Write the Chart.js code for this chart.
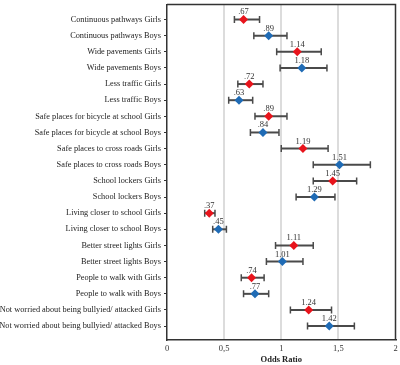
<!DOCTYPE html>
<html><head><meta charset="utf-8">
<script src="https://cdn.jsdelivr.net/npm/chart.js@4/dist/chart.umd.min.js"></script>
<style>html,body{margin:0;padding:0;background:#fff}#wrap{width:400px;height:365px}</style>
</head><body><div id="wrap"><canvas id="c" width="400" height="365"></canvas></div>
<script>
const categories = [
 "Continuous pathways Girls","Continuous pathways Boys",
 "Wide pavements Girls","Wide pavements Boys",
 "Less traffic Girls","Less traffic Boys",
 "Safe places for bicycle at school Girls","Safe places for bicycle at school Boys",
 "Safe places to cross roads Girls","Safe places to cross roads Boys",
 "School lockers Girls","School lockers Boys",
 "Living closer to school Girls","Living closer to school Boys",
 "Better street lights Girls","Better street lights Boys",
 "People to walk with Girls","People to walk with Boys",
 "Not worried about being bullyied/ attacked Girls","Not worried about being bullyied/ attacked Boys"
];
const oddsRatio = [0.67,0.89,1.14,1.18,0.72,0.63,0.89,0.84,1.19,1.51,1.45,1.29,0.37,0.45,1.11,1.01,0.74,0.77,1.24,1.42];
const ciLower = [0.59,0.76,0.96,0.99,0.62,0.54,0.77,0.73,1.00,1.28,1.28,1.13,0.33,0.40,0.95,0.87,0.65,0.67,1.08,1.23];
const ciUpper = [0.81,1.05,1.35,1.40,0.84,0.75,1.05,0.98,1.41,1.78,1.66,1.47,0.42,0.52,1.28,1.19,0.85,0.89,1.44,1.64];
const valueLabels = [".67",".89","1.14","1.18",".72",".63",".89",".84","1.19","1.51","1.45","1.29",".37",".45","1.11","1.01",".74",".77","1.24","1.42"];
const xTickValues = [0,0.5,1,1.5,2];
const xTickLabels = ["0","0,5","1","1,5","2"];

const FONT = "'Liberation Serif', 'Times New Roman', serif";
const girlsIdx = categories.map((c,i)=>i).filter(i=>i%2===0);
const boysIdx = categories.map((c,i)=>i).filter(i=>i%2===1);

const errorBars = {
  id:'errorBars',
  beforeDatasetsDraw(chart){
    const {ctx, scales:{x,y}} = chart;
    ctx.save();
    ctx.strokeStyle = '#4a4a4a';
    for(let i=0;i<categories.length;i++){
      const py = y.getPixelForValue(i+1);
      const x1 = x.getPixelForValue(ciLower[i]);
      const x2 = x.getPixelForValue(ciUpper[i]);
      ctx.lineWidth = 2;
      ctx.beginPath();
      ctx.moveTo(x1,py); ctx.lineTo(x2,py);
      ctx.stroke();
      ctx.lineWidth = 1.5;
      ctx.beginPath();
      ctx.moveTo(x1,py-3.5); ctx.lineTo(x1,py+3.5);
      ctx.moveTo(x2,py-3.5); ctx.lineTo(x2,py+3.5);
      ctx.stroke();
    }
    ctx.restore();
  },
  afterDatasetsDraw(chart){
    const {ctx, scales:{x,y}} = chart;
    ctx.save();
    ctx.fillStyle = '#333';
    ctx.font = "8.5px " + FONT;
    ctx.textAlign = 'center';
    ctx.textBaseline = 'bottom';
    for(let i=0;i<categories.length;i++){
      const py = y.getPixelForValue(i+1);
      const px = x.getPixelForValue(oddsRatio[i]);
      ctx.fillText(valueLabels[i], px, py-3);
    }
    ctx.restore();
  }
};

new Chart(document.getElementById('c'), {
  type:'scatter',
  data:{
    datasets:[
      {label:'Girls', data: girlsIdx.map(i=>({x:oddsRatio[i], y:i+1})),
       backgroundColor:'#e8141c', borderColor:'#e8141c', pointStyle:'rectRot', pointRadius:4.5, borderWidth:0},
      {label:'Boys', data: boysIdx.map(i=>({x:oddsRatio[i], y:i+1})),
       backgroundColor:'#1f6bb5', borderColor:'#1f6bb5', pointStyle:'rectRot', pointRadius:4.5, borderWidth:0}
    ]
  },
  options:{
    responsive:false, animation:false, devicePixelRatio:1,
    layout:{padding:{top:3,right:3,left:0,bottom:0}},
    plugins:{legend:{display:false}, tooltip:{enabled:false}},
    scales:{
      x:{
        type:'linear', min:0, max:2,
        afterBuildTicks(s){ s.ticks = xTickValues.map(v=>({value:v})); },
        afterFit(s){ s.paddingLeft = 0; s.paddingRight = 0; s.height = 25; },
        ticks:{ callback:(v,i)=>xTickLabels[i], color:'#333', font:{family:FONT,size:8.5}, padding:4, maxRotation:0 },
        grid:{ color:(c)=> (c.tick && (c.tick.value===0 || c.tick.value===2)) ? 'rgba(0,0,0,0)' : '#dcdcdc', lineWidth:2, drawTicks:false },
        border:{ display:true, color:'#333', width:1.5 },
        title:{ display:true, text:'Odds Ratio', color:'#222', font:{family:FONT,size:8.5,weight:'bold'}, padding:{top:2,bottom:0} }
      },
      y:{
        type:'linear', reverse:true, min:0.07, max:20.86,
        afterBuildTicks(s){ s.ticks = categories.map((c,i)=>({value:i+1})); },
        afterFit(s){ s.width = 167; s.paddingTop = 0; s.paddingBottom = 0; },
        ticks:{ callback:(v)=>categories[v-1] || '', color:'#222', font:{family:FONT,size:8.3}, padding:3, autoSkip:false },
        grid:{ display:true, drawOnChartArea:false, drawTicks:true, tickLength:3, color:'#333', lineWidth:1 },
        border:{ display:true, color:'#333', width:1.5 }
      }
    }
  },
  plugins:[errorBars, {
    id:'frame',
    afterDraw(chart){
      const {ctx, chartArea:a} = chart;
      ctx.save();
      ctx.strokeStyle = '#333'; ctx.lineWidth = 1.5;
      ctx.beginPath();
      ctx.moveTo(a.left, a.top); ctx.lineTo(a.right, a.top); ctx.lineTo(a.right, a.bottom);
      ctx.stroke();
      ctx.restore();
    }
  }]
});
</script>
</body></html>
